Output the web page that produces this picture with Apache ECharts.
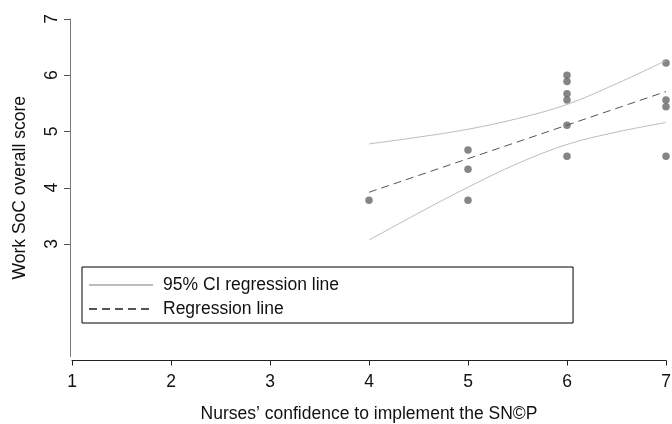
<!DOCTYPE html>
<html>
<head>
<meta charset="utf-8">
<script src="https://cdn.jsdelivr.net/npm/echarts@6/dist/echarts.min.js"></script>
<style>html,body{margin:0;padding:0;background:#fff;}#c{width:672px;height:424px;}</style>
</head>
<body>
<div id="c"></div>
<script>
const scatterX = [4, 5, 5, 5, 6, 6, 6, 6, 6, 6, 7, 7, 7, 7];
const scatterY = [3.78, 4.67, 4.33, 3.78, 6.00, 5.89, 5.67, 5.56, 5.11, 4.56, 6.22, 5.56, 5.44, 4.56];
const fitX = [4, 7];
const fitY = [3.92, 5.71];
const ciX = [4, 4.5, 5, 5.5, 6, 6.5, 7];
const ciUpper = [4.78, 4.90, 5.04, 5.23, 5.48, 5.85, 6.26];
const ciLower = [3.07, 3.55, 4.01, 4.43, 4.77, 4.99, 5.16];
const xTicks = [1, 2, 3, 4, 5, 6, 7];
const yTicks = [3, 4, 5, 6, 7];
const ciName = '95% CI regression line';
const fitName = 'Regression line';
const xTitle = 'Nurses\u2019 confidence to implement the SN\u00A9P';
const yTitle = 'Work SoC overall score';

const zip = (a, b) => a.map((v, i) => [v, b[i]]);
const font = 'Liberation Sans, Arial, sans-serif';

const chart = echarts.init(document.getElementById('c'), null, {renderer: 'canvas'});
chart.setOption({
  animation: false,
  backgroundColor: '#fff',
  grid: {left: 72, right: 6, top: 19, bottom: 67.5, containLabel: false, outerBoundsMode: 'none'},
  xAxis: {
    type: 'value', min: 1, max: 7, interval: 1, offset: 4,
    name: xTitle, nameLocation: 'middle', nameGap: 45,
    nameTextStyle: {fontFamily: font, fontSize: 17.5, color: '#111'},
    axisLine: {show: true, onZero: false, lineStyle: {color: '#222', width: 1}},
    axisTick: {show: true, length: 5, lineStyle: {color: '#222'}, customValues: xTicks},
    axisLabel: {fontFamily: font, fontSize: 17.5, color: '#111', margin: 13, customValues: xTicks},
    splitLine: {show: false}
  },
  yAxis: {
    type: 'value', min: 1, max: 7, interval: 1, offset: 2,
    name: yTitle, nameLocation: 'middle', nameGap: 41, nameRotate: 90,
    nameTextStyle: {fontFamily: font, fontSize: 17.5, color: '#111'},
    axisLine: {show: true, onZero: false, lineStyle: {color: '#777', width: 1}},
    axisTick: {show: true, length: 6, lineStyle: {color: '#555'}, customValues: yTicks},
    axisLabel: {fontFamily: font, fontSize: 17.5, color: '#111', margin: 9, rotate: 90, customValues: yTicks},
    splitLine: {show: false}
  },
  legend: {
    data: [ciName, fitName],
    orient: 'vertical',
    left: 82, top: 267,
    padding: [9, 234, 5, 6],
    itemGap: 6,
    itemWidth: 64,
    itemHeight: 14,
    borderColor: '#000', borderWidth: 1,
    itemStyle: {opacity: 0},
    textStyle: {fontFamily: font, fontSize: 17.5, color: '#111', padding: [0, 0, 0, 5]}
  },
  series: [
    {
      type: 'line', name: ciName, data: zip(ciX, ciUpper), smooth: 0.35,
      symbol: 'none', lineStyle: {color: '#bdbdbd', width: 1}, itemStyle: {color: '#bdbdbd'}
    },
    {
      type: 'line', name: ciName, data: zip(ciX, ciLower), smooth: 0.35,
      symbol: 'none', lineStyle: {color: '#bdbdbd', width: 1}, itemStyle: {color: '#bdbdbd'}
    },
    {
      type: 'line', name: fitName, data: zip(fitX, fitY),
      symbol: 'none', lineStyle: {color: '#555', width: 1, type: [8, 5]}, itemStyle: {color: '#555'}
    },
    {
      type: 'scatter', name: 'Observed', data: zip(scatterX, scatterY),
      symbol: 'circle', symbolSize: 7.5, itemStyle: {color: '#666'}
    }
  ]
});
</script>
</body>
</html>
